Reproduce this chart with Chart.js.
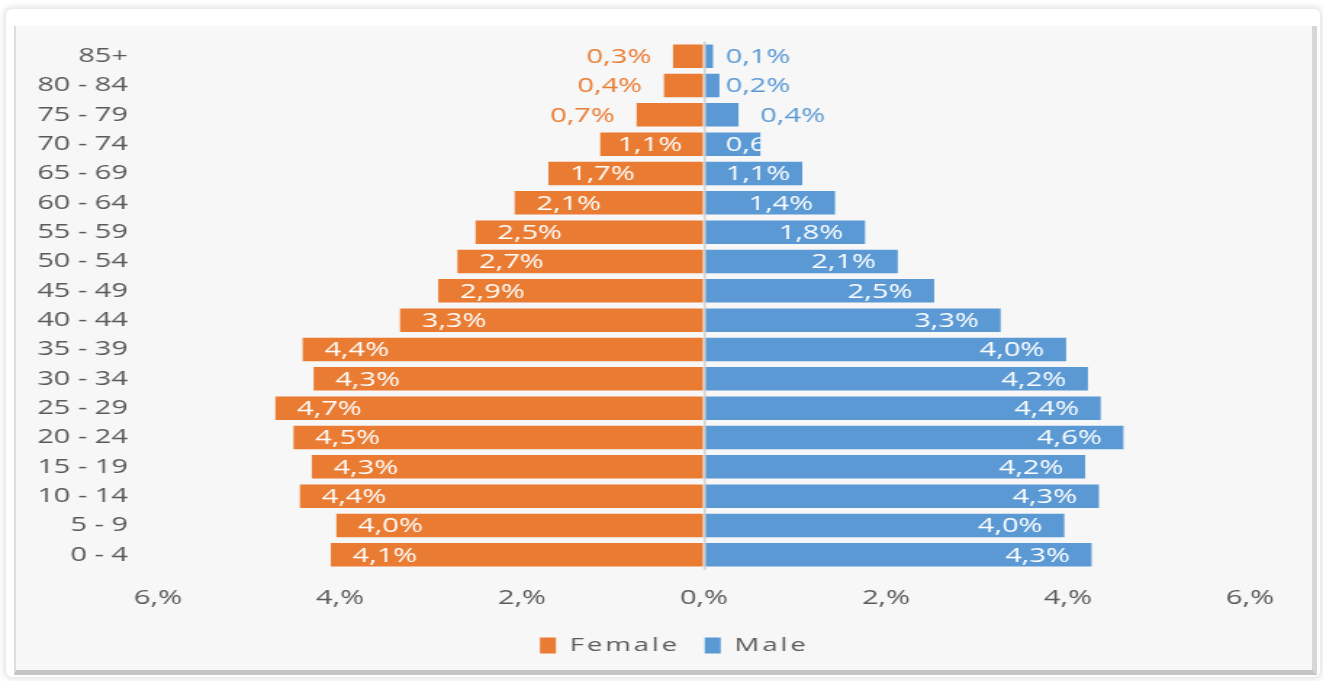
<!DOCTYPE html>
<html>
<head>
<meta charset="utf-8">
<script src="https://cdn.jsdelivr.net/npm/chart.js@4/dist/chart.umd.min.js"></script>
<style>
  html, body { margin: 0; padding: 0; }
  body { width: 1323px; height: 681px; overflow: hidden; position: relative; background: #ffffff; }
  .outer { position: absolute; left: 6px; top: 9px; width: 1314px; height: 668px; background: #ffffff;
           border-radius: 6px; box-shadow: 0 0 6px 2px rgba(0,0,0,0.12); }
  .inner { position: absolute; left: 14px; top: 26px; width: 1296px; height: 644px; background: #F7F7F7;
           border-left: 2px solid #dedede; border-right: 5px solid #d6d6d6; border-bottom: 5px solid #c4c4c4; }
  #wrap { position: absolute; left: 0; top: 0; width: 912px; height: 681px;
          transform: scaleX(1.4507); transform-origin: 0 0; }
  #c { display: block; width: 912px; height: 681px; }
</style>
</head>
<body>
<div class="outer"></div>
<div class="inner"></div>
<div id="wrap"><canvas id="c" width="912" height="681"></canvas></div>
<script>
// ---- data (percent of population) ----
const ageGroups = ['0 - 4', '5 - 9', '10 - 14', '15 - 19', '20 - 24', '25 - 29', '30 - 34', '35 - 39',
                   '40 - 44', '45 - 49', '50 - 54', '55 - 59', '60 - 64', '65 - 69', '70 - 74',
                   '75 - 79', '80 - 84', '85+'];
const female = [4.10, 4.04, 4.44, 4.31, 4.51, 4.71, 4.29, 4.41, 3.34, 2.92, 2.71, 2.51, 2.08, 1.71, 1.14, 0.74, 0.44, 0.34];
const male   = [4.26, 3.96, 4.34, 4.19, 4.61, 4.36, 4.22, 3.98, 3.26, 2.53, 2.13, 1.77, 1.44, 1.08, 0.62, 0.38, 0.17, 0.10];
const seriesNames = ['Female', 'Male'];
const axisTicks = [-6, -4, -2, 0, 2, 4, 6];

const femaleColor = '#E97B32';
const maleColor = '#5A99D3';
const textColor = '#595959';
const FONT = '"Open Sans", "DejaVu Sans", sans-serif';
const FS = 20;

function pct(v) { return v.toFixed(1).replace('.', ',') + '%'; }

// wider letter spacing for the legend only, and legend centred like the original
const legendTweaks = {
  id: 'legendTweaks',
  afterInit(chart) {
    const lg = chart.legend;
    if (!lg || lg._spaced) return;
    lg._spaced = true;
    const wrap = (fn) => function (...args) {
      const c = this.ctx;
      const prev = c.letterSpacing;
      c.letterSpacing = '2px';
      const r = fn.apply(this, args);
      c.letterSpacing = prev || '0px';
      return r;
    };
    lg.fit = wrap(lg.fit);
    lg.draw = wrap(lg.draw);
  },
  afterLayout(chart) {
    const lg = chart.legend;
    if (!lg) return;
    lg.left += 34;
    lg.right += 34;
  }
};

const barLabels = {
  id: 'barLabels',
  afterDraw(chart) {
    const ctx = chart.ctx;
    const x0 = chart.scales.x.getPixelForValue(0);
    const pad = 15;
    ctx.save();
    ctx.font = FS + 'px ' + FONT;
    ctx.textBaseline = 'middle';
    ctx.textAlign = 'left';
    chart.data.datasets.forEach((ds, di) => {
      const meta = chart.getDatasetMeta(di);
      const values = di === 0 ? female : male;
      meta.data.forEach((bar, i) => {
        const v = values[i];
        const text = pct(v);
        const w = ctx.measureText(text).width;
        const y = bar.y;
        const h = bar.height;
        let x, color = '#ffffff', clip = false;
        if (di === 0) {
          if (v < 0.8) { x = bar.x - pad - w; color = femaleColor; }
          else { x = Math.min(bar.x + pad, x0 - pad - w); }
        } else {
          if (v < 0.3) { x = x0 + pad; color = maleColor; }
          else if (v < 0.5) { x = bar.x + pad; color = maleColor; }
          else { x = Math.max(bar.x - pad - w, x0 + pad); clip = true; }
        }
        ctx.save();
        if (clip) {
          ctx.beginPath();
          ctx.rect(x0, y - h / 2, bar.x - x0, h);
          ctx.clip();
        }
        ctx.fillStyle = color;
        ctx.fillText(text, x, y + 1);
        ctx.restore();
      });
    });
    ctx.restore();
  }
};

function build() {
  new Chart(document.getElementById('c'), {
    type: 'bar',
    data: {
      labels: ageGroups,
      datasets: [
        { label: seriesNames[0], data: female.map(v => -v), backgroundColor: femaleColor, borderWidth: 0 },
        { label: seriesNames[1], data: male, backgroundColor: maleColor, borderWidth: 0 }
      ]
    },
    options: {
      indexAxis: 'y',
      responsive: false,
      animation: false,
      devicePixelRatio: 1,
      barPercentage: 1,
      categoryPercentage: 0.8,
      layout: { padding: { left: 0, right: 50.4, top: 41.5, bottom: 16 } },
      scales: {
        x: {
          stacked: true,
          min: -6, max: 6,
          z: 1,
          afterBuildTicks(scale) { scale.ticks = axisTicks.map(v => ({ value: v })); },
          afterFit(scale) { scale.height = 49.5; },
          ticks: {
            callback: v => Math.abs(v) + ',%',
            font: { family: FONT, size: FS },
            color: textColor,
            padding: 17,
            maxRotation: 0
          },
          grid: {
            z: 1,
            drawTicks: false,
            lineWidth: 1.5,
            color: c => (c.tick && c.tick.value === 0) ? '#D2D2D2' : 'rgba(0,0,0,0)'
          },
          border: { display: false }
        },
        y: {
          stacked: true,
          reverse: true,
          z: 1,
          afterFit(scale) { scale.width = 108.9; },
          ticks: {
            font: { family: FONT, size: FS },
            color: textColor,
            padding: 20.7
          },
          grid: { display: false, drawTicks: false },
          border: { display: false }
        }
      },
      plugins: {
        legend: {
          position: 'bottom',
          labels: {
            font: { family: FONT, size: 19 },
            color: textColor,
            boxWidth: 11,
            boxHeight: 16,
            padding: 17
          }
        },
        tooltip: { enabled: false }
      }
    },
    plugins: [legendTweaks, barLabels]
  });
}

if (document.fonts && document.fonts.load) {
  document.fonts.load(FS + 'px "Open Sans"').then(build, build);
} else {
  build();
}
</script>
</body>
</html>
